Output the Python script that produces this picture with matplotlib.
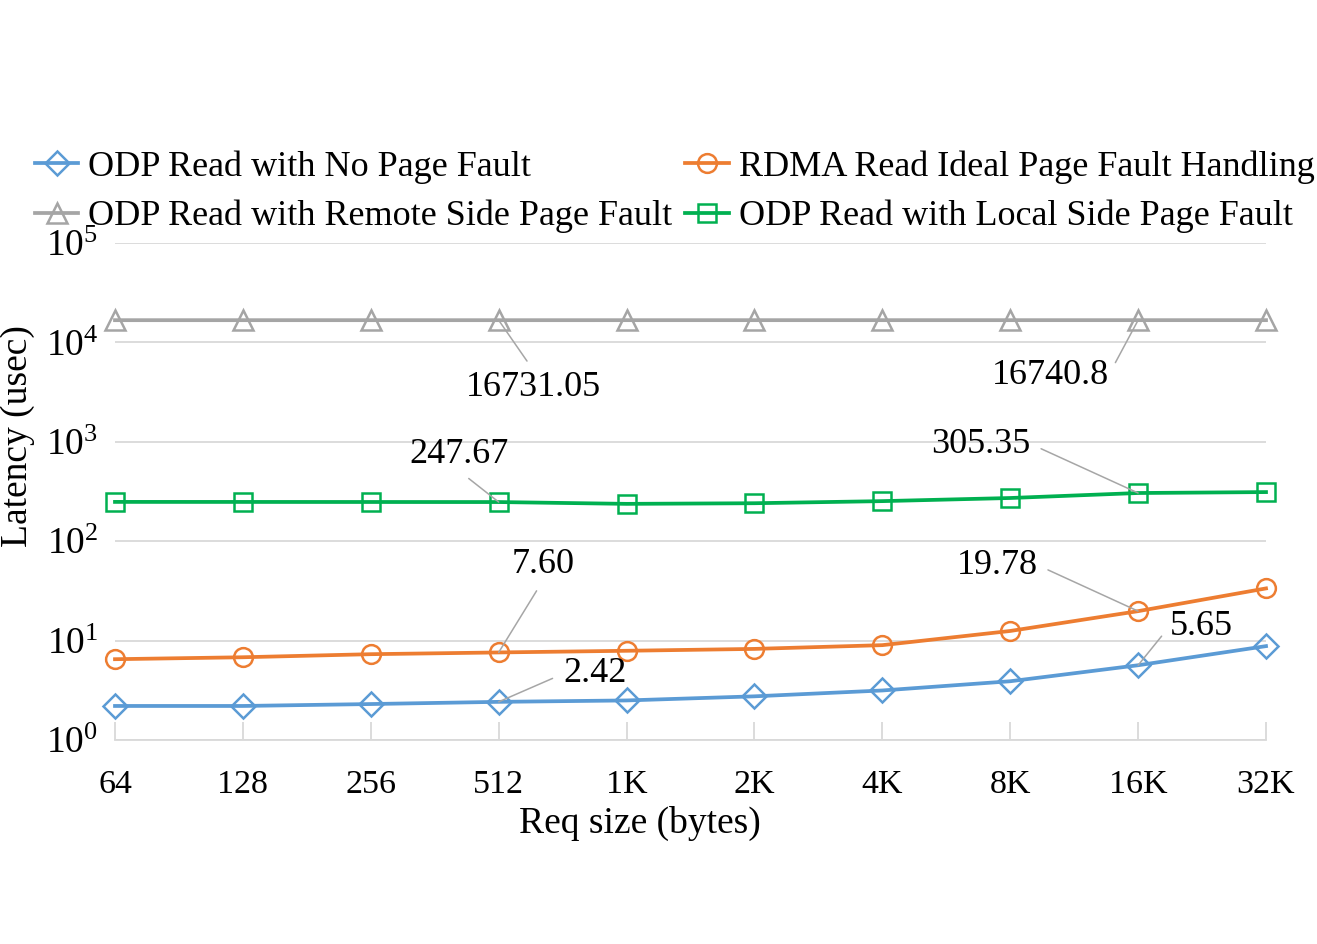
import numpy as np
import matplotlib
matplotlib.use("Agg")
import matplotlib.pyplot as plt
from matplotlib.lines import Line2D

plt.rcParams['font.family'] = ['Liberation Serif', 'DejaVu Serif']
plt.rcParams['mathtext.fontset'] = 'custom'
plt.rcParams['mathtext.rm'] = 'Liberation Serif'
plt.rcParams['mathtext.it'] = 'Liberation Serif:italic'

# request sizes (x categories)
sizes = ['64', '128', '256', '512', '1K', '2K', '4K', '8K', '16K', '32K']

# latency in usec
no_fault = [2.2, 2.2, 2.3, 2.42, 2.5, 2.75, 3.15, 3.9, 5.65, 8.8]
rdma_ideal = [6.5, 6.8, 7.3, 7.60, 7.9, 8.25, 9.0, 12.5, 19.78, 33.5]
remote_fault = [16735, 16733, 16734, 16731.05, 16736, 16737, 16738, 16739, 16740.8, 16741]
local_fault = [248.5, 248.3, 248.0, 247.67, 237.5, 241.0, 253.0, 272.0, 305.35, 312.0]

blue = '#5b9bd5'
orange = '#ed7d31'
gray = '#a5a5a5'
green = '#00b050'

fig = plt.figure(figsize=(13.17, 9.44), dpi=100)
ax = fig.add_axes([115 / 1317, 1 - 740 / 944, (1266 - 115) / 1317, (740 - 243) / 944])

x = np.arange(len(sizes))
lw = 2.7
mew = 1.8
series = [
    (no_fault, blue, 'D', 12, 'ODP Read with No Page Fault'),
    (remote_fault, gray, '^', 15, 'ODP Read with Remote Side Page Fault'),
    (rdma_ideal, orange, 'o', 13.5, 'RDMA Read Ideal Page Fault Handling'),
    (local_fault, green, 's', 12.5, 'ODP Read with Local Side Page Fault'),
]
handles = []
for vals, col, mk, ms, name in series:
    ax.plot(x, vals, color=col, lw=lw, marker=mk, markersize=ms, clip_on=False,
            markerfacecolor='none', markeredgecolor=col, markeredgewidth=mew, zorder=3)
    handles.append(Line2D([], [], color=col, lw=lw, marker=mk, markersize=ms,
                          markerfacecolor='none', markeredgecolor=col, markeredgewidth=mew))

ax.set_yscale('log')
ax.set_ylim(1, 1e5)
ax.set_xlim(0, 9)
ax.set_xticks(x)
ax.set_xticklabels(sizes)
ax.set_yticks([1, 10, 100, 1000, 1e4, 1e5])
ax.set_yticklabels([r'$\mathdefault{10^{%d}}$' % i for i in range(6)])
ax.yaxis.set_minor_locator(matplotlib.ticker.NullLocator())
ax.grid(axis='y', color='#d9d9d9', lw=1.3)
ax.set_axisbelow(True)
for s in ['top', 'right', 'left']:
    ax.spines[s].set_visible(False)
ax.spines['bottom'].set_color('#d9d9d9')
ax.spines['bottom'].set_linewidth(1.3)
ax.tick_params(axis='x', direction='in', length=13, color='#d9d9d9', width=1.3,
               labelsize=24.5, pad=21)
ax.tick_params(axis='y', length=0, labelsize=27, pad=12)
ax.set_xlabel('Req size (bytes)', fontsize=27)
ax.xaxis.set_label_coords(0.456, -0.132)
ax.set_ylabel('Latency (usec)', fontsize=27)
ax.yaxis.set_label_coords(-0.0695, 0.612)

# data labels: (series values, index, format, offset in pixels, attach point on text)
labels = [
    (remote_fault, 3, '{:.2f}', (35, -67), (0.5, 1.0)),
    (remote_fault, 8, '{:.1f}', (-88, -55), (1.0, 0.5)),
    (local_fault, 3, '{:.2f}', (-40, 48), (0.5, 0.0)),
    (local_fault, 8, '{:.2f}', (-157, 49), (1.0, 0.5)),
    (rdma_ideal, 3, '{:.2f}', (44, 88), (0.5, 0.0)),
    (rdma_ideal, 8, '{:.2f}', (-141, 46), (1.0, 0.5)),
    (no_fault, 3, '{:.2f}', (96, 28), (0.0, 0.5)),
    (no_fault, 8, '{:.2f}', (63, 39), (0.0, 0.5)),
]
for vals, i, fmt, off, rel in labels:
    ax.annotate(fmt.format(vals[i]), xy=(x[i], vals[i]), xytext=off,
                textcoords='offset pixels', ha='center', va='center', fontsize=26,
                arrowprops=dict(arrowstyle='-', color='#a6a6a6', lw=1.1,
                                relpos=rel, shrinkA=6, shrinkB=0), zorder=4)

fig.legend(handles=handles, labels=[s[4] for s in series], ncol=2,
           loc='upper left', bbox_to_anchor=(35 / 1317, 1 - 150 / 944),
           frameon=False, fontsize=26, handlelength=1.2, handletextpad=0.28,
           columnspacing=0.35, labelspacing=0.45, borderaxespad=0, borderpad=0)

fig.savefig('out.png', dpi=100)
